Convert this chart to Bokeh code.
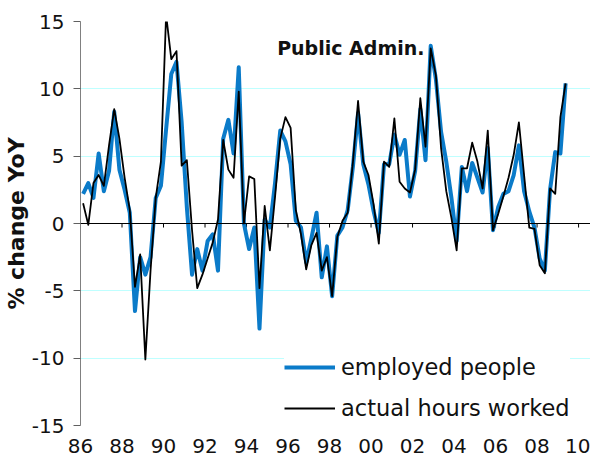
from bokeh.plotting import figure
from bokeh.models import FixedTicker, Span, Label, Legend, LegendItem
from bokeh.embed import file_html
from bokeh.resources import INLINE

# ---------------- data (quarterly, 1986Q1 .. 2009Q2) ----------------
start_year = 1986
employed = [
    2.2, 3.0, 1.9, 5.2, 2.4, 3.9, 8.3, 4.0,
    2.5, 0.8, -6.5, -2.5, -3.8, -2.5, 1.9, 2.8,
    7.0, 11.1, 12.0, 7.5, 1.2, -3.8, -1.9, -3.5,
    -1.3, -0.8, -3.5, 6.3, 7.7, 5.2, 11.6, 0.0,
    -1.9, -0.3, -7.8, 0.3, -0.3, 3.0, 6.9, 6.1,
    4.4, 0.2, -0.3, -2.9, -1.1, 0.8, -4.0, -1.7,
    -5.4, -0.9, -0.3, 1.0, 4.2, 8.2, 4.4, 2.9,
    0.9, -0.7, 4.4, 4.4, 6.6, 5.1, 6.2, 2.0,
    3.9, 8.5, 4.7, 13.2, 10.7, 6.8, 4.6, 1.9,
    -1.3, 4.2, 2.4, 4.5, 3.4, 2.3, 5.6, -0.5,
    1.2, 2.2, 2.4, 3.6, 5.8, 2.4, 0.9, -0.3,
    -2.6, -3.5, 2.5, 5.3, 5.2, 10.4,
]
hours = [
    1.5, -0.1, 3.0, 3.6, 2.8, 5.8, 8.5, 6.3,
    3.4, 1.0, -4.7, -2.3, -10.1, -3.5, 1.9, 4.6,
    15.5, 12.2, 12.8, 4.3, 4.7, -0.5, -4.8, -3.8,
    -2.6, -1.4, 0.3, 6.2, 4.0, 3.4, 9.8, 0.0,
    3.5, 3.3, -4.8, 1.3, -2.0, 2.0, 6.3, 7.9,
    7.1, 1.0, -0.8, -3.4, -1.6, -0.7, -3.5, -2.5,
    -5.4, -1.0, 0.2, 0.8, 4.5, 9.1, 4.6, 3.6,
    1.4, -1.5, 4.6, 4.2, 7.8, 3.1, 2.6, 2.3,
    4.0, 9.3, 5.7, 13.0, 11.0, 5.6, 2.4, 0.4,
    -2.0, 4.1, 4.1, 6.0, 4.6, 2.6, 6.9, -0.5,
    0.7, 2.0, 3.4, 5.1, 7.5, 3.6, -0.3, -0.4,
    -3.1, -3.7, 2.6, 2.2, 7.9, 10.4,
]
tick_years = list(range(1986, 2011, 2))
tick_labels = ["86", "88", "90", "92", "94", "96", "98", "00", "02", "04", "06", "08", "10"]
y_ticks = [-15, -10, -5, 0, 5, 10, 15]
y_tick_labels = ["-15", "-10", "-5", "0", "5", "10", "15"]
series_names = ["employed people", "actual hours worked"]
chart_title = "Public Admin."
y_title = "% change YoY"

# category positions: each quarter centred within its slot
x = [i + 0.5 for i in range(len(employed))]
tick_x = [(yr - start_year) * 4 for yr in tick_years]

FONT = "DejaVu Sans"
BLUE = "#0B7BC9"

p = figure(width=590, height=458, x_range=(0, 98.3), y_range=(-15, 15),
           output_backend="svg", toolbar_location=None,
           min_border_left=79, min_border_right=0, min_border_top=21, min_border_bottom=33)
p.outline_line_color = None
p.background_fill_color = "white"
p.border_fill_color = "white"

# grid
p.xgrid.visible = False
p.ygrid.ticker = FixedTicker(ticks=[t for t in y_ticks if t != 0])
p.ygrid.grid_line_color = "#BFFFFF"
p.ygrid.grid_line_width = 1

# y axis
p.yaxis.ticker = FixedTicker(ticks=y_ticks)
p.yaxis.major_label_overrides = {t: s for t, s in zip(y_ticks, y_tick_labels)}
p.yaxis.axis_line_color = "#808080"
p.yaxis.major_tick_line_color = "#606060"
p.yaxis.major_tick_out = 7
p.yaxis.major_tick_in = 0
p.yaxis.minor_tick_line_color = None
p.yaxis.major_label_standoff = 9
p.yaxis.major_label_text_font = FONT
p.yaxis.major_label_text_font_size = "20px"
p.yaxis.major_label_text_color = "#111111"
p.yaxis.axis_label = y_title
p.yaxis.axis_label_standoff = 0
p.yaxis.axis_label_text_font = FONT
p.yaxis.axis_label_text_font_style = "bold"
p.yaxis.axis_label_text_font_size = "22px"
p.yaxis.axis_label_text_color = "#111111"

# x axis (labels only at the bottom)
p.xaxis.ticker = FixedTicker(ticks=tick_x)
p.xaxis.major_label_overrides = {tx: lab for tx, lab in zip(tick_x, tick_labels)}
p.xaxis.axis_line_color = None
p.xaxis.major_tick_line_color = None
p.xaxis.minor_tick_line_color = None
p.xaxis.major_tick_out = 0
p.xaxis.major_label_standoff = 13
p.xaxis.major_label_text_font = FONT
p.xaxis.major_label_text_font_size = "20px"
p.xaxis.major_label_text_color = "#111111"

# zero line with hanging tick marks
p.add_layout(Span(location=0, dimension="width", line_color="black", line_width=1))
p.segment(x0=tick_x, y0=[0] * len(tick_x), x1=tick_x, y1=[-0.3] * len(tick_x),
          line_color="black", line_width=1)

r1 = p.line(x, employed, line_color=BLUE, line_width=4, line_join="round")
r2 = p.line(x, hours, line_color="black", line_width=1.8, line_join="round")

legend = Legend(items=[LegendItem(label=series_names[0], renderers=[r1]),
                       LegendItem(label=series_names[1], renderers=[r2])],
                location=(204, 4), orientation="vertical",
                label_text_font=FONT, label_text_font_size="22.5px", label_text_color="#111111",
                glyph_width=51, glyph_height=20, label_height=20, spacing=15,
                padding=6, margin=0, label_standoff=6,
                border_line_color=None, background_fill_color="white", background_fill_alpha=1.0)
p.add_layout(legend)

p.add_layout(Label(x=37.9, y=13.0, text=chart_title, text_font=FONT, text_font_style="bold",
                   text_font_size="19px", text_baseline="middle", text_align="left",
                   text_color="#111111"))

open("out.html", "w").write(file_html(p, INLINE))
